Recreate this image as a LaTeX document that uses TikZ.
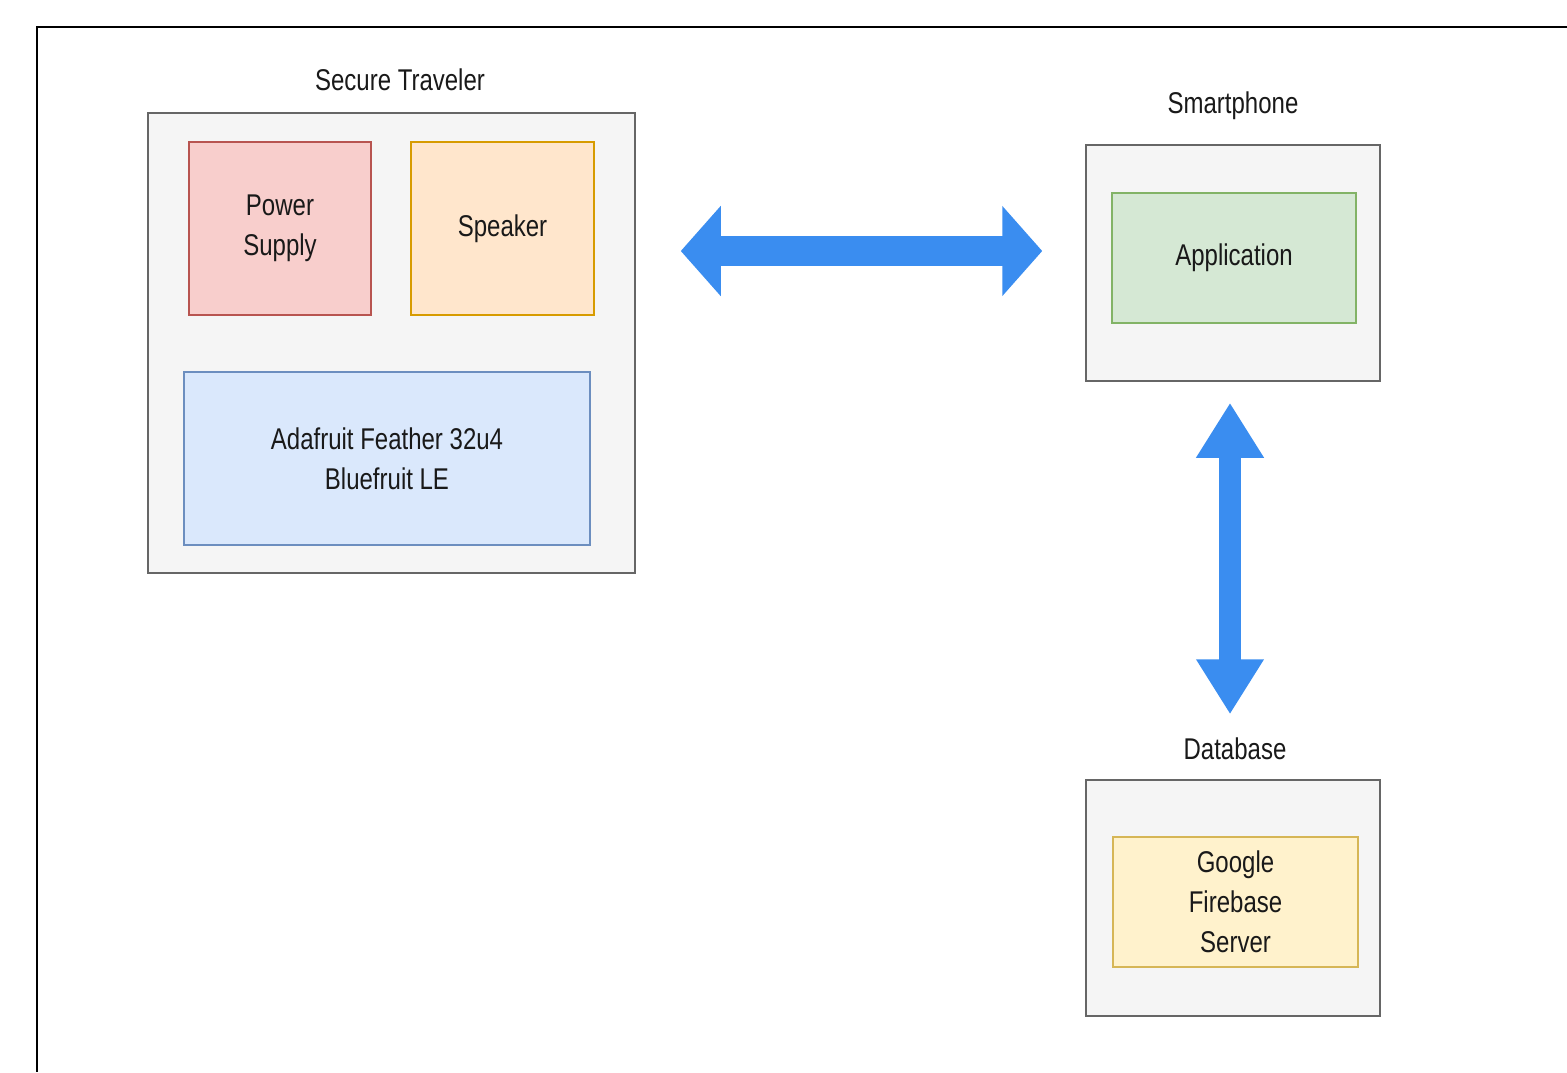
\documentclass[tikz,border=0pt]{standalone}
\usepackage{fontspec}
\setmainfont{Liberation Sans}[FakeStretch=0.8]
\usetikzlibrary{arrows.meta}
\definecolor{groupfill}{HTML}{F5F5F5}
\definecolor{groupline}{HTML}{666666}
\definecolor{redfill}{HTML}{F8CECC}
\definecolor{redline}{HTML}{B85450}
\definecolor{orangefill}{HTML}{FFE6CC}
\definecolor{orangeline}{HTML}{D79B00}
\definecolor{bluefill}{HTML}{DAE8FC}
\definecolor{blueline}{HTML}{6C8EBF}
\definecolor{greenfill}{HTML}{D5E8D4}
\definecolor{greenline}{HTML}{82B366}
\definecolor{yellowfill}{HTML}{FFF2CC}
\definecolor{yellowline}{HTML}{D6B656}
\definecolor{linkblue}{HTML}{3A8DF0}
\tikzset{
  label text/.style={font=\fontsize{15}{20}\selectfont, text=black!90, align=center},
  group/.style={draw=groupline, fill=groupfill, line width=0.75pt, inner sep=0pt},
  part/.style={label text, line width=0.75pt, inner sep=0pt},
  title/.style={label text}
}
\begin{document}
\begin{tikzpicture}[x=0.5pt, y=-0.5pt]
            \useasboundingbox (0,0) rectangle (1567,1072);
            \draw[line width=1.3pt] (1567,27) -- (37,27) -- (37,1072);
            % secure traveler
            \node[group, minimum width=243.5pt, minimum height=230pt] (traveler) at (391.5,343) {};
            \node[title] (travelertitle) at (400,80) {Secure Traveler};
            \node[part, draw=redline, fill=redfill, minimum width=91pt, minimum height=86.5pt] (power) at (280,228.5) {Power\\Supply};
            \node[part, draw=orangeline, fill=orangefill, minimum width=91.5pt, minimum height=86.5pt] (speaker) at (502.5,228.5) {Speaker};
            \node[part, draw=blueline, fill=bluefill, minimum width=203pt, minimum height=86.5pt] (feather) at (387,458.5) {Adafruit Feather 32u4\\Bluefruit LE};
            % smartphone
            \node[group, minimum width=147pt, minimum height=118pt] (phone) at (1233,263) {};
            \node[title] (phonetitle) at (1233,106) {Smartphone};
            \node[part, draw=greenline, fill=greenfill, minimum width=122pt, minimum height=65pt] (app) at (1234,258) {Application};
            % database
            \node[group, minimum width=147pt, minimum height=118pt] (db) at (1233,898) {};
            \node[title] (dbtitle) at (1235,749) {Database};
            \node[part, draw=yellowline, fill=yellowfill, minimum width=122.5pt, minimum height=65pt] (firebase) at (1235.5,902) {Google\\Firebase\\Server};
            % links
            \coordinate (hmid) at (0,251);
            \draw[linkblue, line width=15pt, {Triangle[length=20pt, width=44pt]}-{Triangle[length=20pt, width=44pt]}, shorten <=22.5pt, shorten >=21.5pt] (traveler.east |- hmid) -- (phone.west |- hmid);
            \draw[linkblue, line width=11pt, {Triangle[length=27.5pt, width=32pt]}-{Triangle[length=27.5pt, width=32pt]}, shorten <=10.5pt, shorten >=32.5pt] ([xshift=-1.5pt]phone.south) -- ([xshift=-1.5pt]db.north);
        \end{tikzpicture}
\end{document}
